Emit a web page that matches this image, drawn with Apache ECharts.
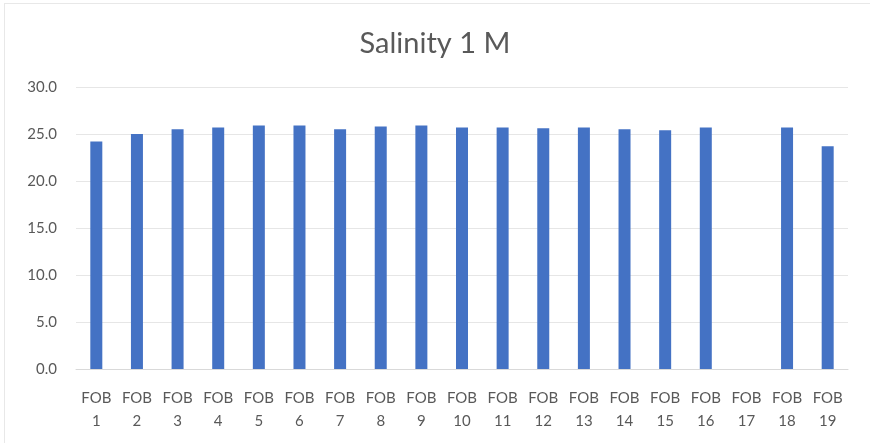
<!DOCTYPE html>
<html>
<head>
<meta charset="utf-8">
<script src="https://cdn.jsdelivr.net/npm/echarts@6/dist/echarts.min.js"></script>
<style>
  html, body { margin: 0; padding: 0; background: #fff; }
  #frame { position: absolute; left: 4px; top: 3px; width: 866px; height: 440px;
           border-left: 1px solid #e8e8e8; border-top: 1px solid #e8e8e8; box-sizing: border-box; }
  #chart { position: absolute; left: 0; top: 0; width: 870px; height: 443px; }
</style>
</head>
<body>
<div id="frame"></div>
<div id="chart"></div>
<script>
var categories = ['FOB\n1', 'FOB\n2', 'FOB\n3', 'FOB\n4', 'FOB\n5', 'FOB\n6', 'FOB\n7', 'FOB\n8', 'FOB\n9', 'FOB\n10',
                  'FOB\n11', 'FOB\n12', 'FOB\n13', 'FOB\n14', 'FOB\n15', 'FOB\n16', 'FOB\n17', 'FOB\n18', 'FOB\n19'];
var salinity = [24.2, 25.0, 25.5, 25.7, 25.9, 25.9, 25.5, 25.8, 25.9, 25.7,
                25.7, 25.6, 25.7, 25.5, 25.4, 25.7, null, 25.7, 23.7];
var yTicks = { min: 0, max: 30, interval: 5 };

var myChart = echarts.init(document.getElementById('chart'));
var option = {
    animation: false,
    title: {
        text: 'Salinity 1 M',
        left: 'center',
        top: 24,
        textStyle: { fontFamily: 'Lato', fontSize: 29, fontWeight: 'normal', color: '#595959' }
    },
    grid: { left: 76, right: 22, top: 87, bottom: 74 },
    xAxis: {
        type: 'category',
        data: categories,
        axisLine: { lineStyle: { color: '#d9d9d9' } },
        axisTick: { show: false },
        axisLabel: { color: '#595959', fontFamily: 'Lato', fontSize: 15, lineHeight: 23, margin: 18, interval: 0 }
    },
    yAxis: {
        type: 'value',
        min: yTicks.min,
        max: yTicks.max,
        interval: yTicks.interval,
        axisLine: { show: false },
        axisTick: { show: false },
        splitLine: { lineStyle: { color: '#e6e6e6' } },
        axisLabel: {
            color: '#595959', fontFamily: 'Lato', fontSize: 15, margin: 19,
            formatter: function (v) { return v.toFixed(1); }
        }
    },
    series: [{
        name: 'Salinity 1 M',
        type: 'bar',
        data: salinity,
        barWidth: 12,
        itemStyle: { color: '#4472C4' }
    }]
};
myChart.setOption(option);
</script>
</body>
</html>
